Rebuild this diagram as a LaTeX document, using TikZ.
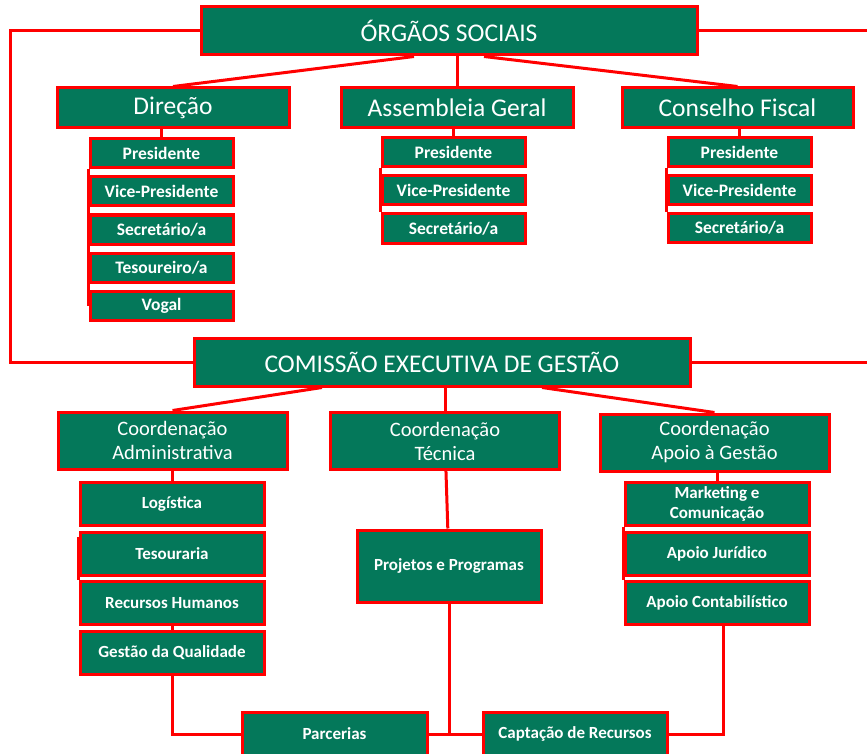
\documentclass[tikz,border=0pt]{standalone}
\usepackage{fontspec}
\setmainfont{Carlito}
\definecolor{boxgreen}{RGB}{4,120,90}

\begin{document}
\begin{tikzpicture}[x=1pt,y=-1pt,node distance=38pt,
    box/.style={draw=red,line width=3pt,fill=boxgreen,text=white,inner sep=0pt},
    head/.style={box,minimum height=40pt,font=\fontsize{25.5}{30}\selectfont},
    coord/.style={box,minimum width=229pt,minimum height=57pt,align=center,font=\fontsize{20.5}{24}\selectfont},
    sub/.style={box,minimum width=143pt,minimum height=29pt,font=\bfseries\fontsize{17.5}{20}\selectfont},
    unit/.style={box,minimum width=184pt,minimum height=43pt,align=center,font=\bfseries\fontsize{17}{20}\selectfont},
    link/.style={draw=red,line width=3pt}]
          \useasboundingbox (0,0) rectangle (867,754);
          \clip (0,0) rectangle (867,754);
          \coordinate (lft) at (10,0);
          \coordinate (rgt) at (872,0);

          % orgaos sociais
          \node (org) [head,minimum width=496pt,minimum height=48pt] at (449,31) {ÓRGÃOS SOCIAIS};
          \node (dir) [head,minimum width=232pt] at (173,108) {Direção};
          \node (ag) [head,minimum width=232pt] at (457,108) {Assembleia Geral};
          \node (cf) [head,minimum width=231pt] at (737.5,108) {Conselho Fiscal};

          \node (d1) [sub] at (161.5,153.5) {Presidente};
          \node (d2) [sub,below of=d1] {Vice-Presidente};
          \node (d3) [sub,below of=d2] {Secretário/a};
          \node (d4) [sub,below of=d3] {Tesoureiro/a};
          \node (d5) [sub,below of=d4] {Vogal};

          \node (a1) [sub] at (453.5,152.5) {Presidente};
          \node (a2) [sub,below of=a1] {Vice-Presidente};
          \node (a3) [sub,below of=a2] {Secretário/a};

          \node (f1) [sub] at (739.5,152) {Presidente};
          \node (f2) [sub,below of=f1] {Vice-Presidente};
          \node (f3) [sub,below of=f2] {Secretário/a};

          % comissao executiva
          \node (ceg) [head,minimum width=496pt,minimum height=48pt] at (442,362) {COMISSÃO EXECUTIVA DE GESTÃO};
          \node (ca) [coord] at (172.5,440.5) {Coordenação\\Administrativa};
          \node (ct) [coord] at (445,441) {Coordenação\\Técnica};
          \node (cg) [coord] at (714.5,442.5) {Coordenação\\Apoio à Gestão};

          \begin{scope}[node distance=49.5pt]
          \node (c1) [unit] at (172,504) {Logística};
          \node (c2) [unit,below of=c1] {Tesouraria};
          \node (c3) [unit,below of=c2] {Recursos Humanos};
          \node (c4) [unit,below of=c3] {Gestão da Qualidade};

          \node (g1) [unit] at (717,504) {Marketing e\\Comunicação};
          \node (g2) [unit,below of=g1] {Apoio Jurídico};
          \node (g3) [unit,below of=g2] {Apoio Contabilístico};
          \end{scope}

          \node (proj) [unit,minimum height=72pt] at (449,566) {Projetos e Programas};
          \node (parc) [unit,minimum width=185pt,minimum height=44pt] at (334.5,734) {Parcerias};
          \node (capt) [unit,minimum height=44pt] at (575,734) {Captação de Recursos};

		  \draw[link]
			([xshift=-35pt]org.south) edge (dir.north)
			(org.south -| ag.north) edge (ag.north)
			([xshift=35pt]org.south) edge (cf.north)
			(dir.south -| d1.north) edge (d1.north)
			(ag.south -| a1.north) edge (a1.north)
			(cf.south -| f1.north) edge (f1.north)
			(d1.south west) edge (d5.west)
			(a1.south west) edge (a3.north west)
			(f1.south west) edge (f3.north west)
			([xshift=-120pt]ceg.south) edge (ca.north)
			(ceg.south -| ct.north) edge (ct.north)
			([xshift=100pt]ceg.south) edge (cg.north)
			(ca.south -| c1.north) edge (c1.north)
			(cg.south -| g1.north) edge (g1.north)
			([yshift=-10pt]c1.south west) edge (c3.north west)
			(g1.south west) edge (g3.north west)
			(c3) edge (c4)
			(ct) edge (proj)
			(parc.east) edge (capt.west);

		  \draw[link] (org.west) -- (org.west -| lft) -- (ceg.west -| lft) -- (ceg.west);
		  \draw[link] (org.east) -- (org.east -| rgt);
		  \draw[link] (ceg.east) -- (ceg.east -| rgt);
		  \draw[link] (c4.south) |- (parc.west);
		  \draw[link] (proj.south) -- (proj.south |- parc.east);
		  \draw[link] ([xshift=6pt]g3.south) |- (capt.east);

        \end{tikzpicture}
\end{document}
